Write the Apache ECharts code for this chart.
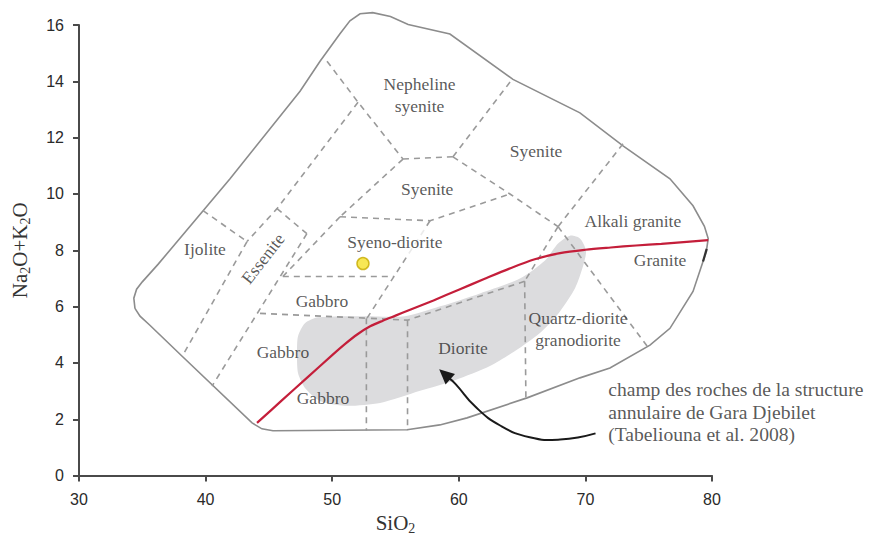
<!DOCTYPE html>
<html>
<head>
<meta charset="utf-8">
<script src="https://cdn.jsdelivr.net/npm/echarts@6/dist/echarts.min.js"></script>
<style>
  html, body { margin: 0; padding: 0; background: #ffffff; }
  #chart { width: 870px; height: 540px; }
</style>
</head>
<body>
<div id="chart"></div>
<script>
// Axis ranges and ticks (SiO2 wt% vs Na2O+K2O wt%)
const xRange = [30, 80];
const yRange = [0, 16];
const xStep = 10;
const yStep = 2;

// Outer limit of the plutonic classification diagram
const outline = [
  [34.42, 5.94], [34.33, 6.3], [34.55, 6.62], [35.0, 6.88], [36.24, 7.5],
  [41.93, 10.54], [47.46, 13.65], [49.04, 14.71], [50.6, 15.68], [51.4, 16.15],
  [52.2, 16.4], [53.2, 16.44], [54.6, 16.3], [56.0, 16.02], [59.3, 15.68],
  [64.28, 14.07], [69.57, 12.88], [73.0, 11.7], [76.68, 10.54], [78.5, 9.58],
  [79.4, 8.85], [79.7, 8.42], [79.55, 7.95], [79.29, 7.6], [78.5, 6.54],
  [76.68, 5.23], [75.1, 4.63], [71.94, 3.82], [69.57, 3.47], [65.39, 2.76],
  [60.65, 2.05], [58.5, 1.8], [55.91, 1.63], [45.32, 1.59], [44.45, 1.66],
  [43.67, 1.87], [38.21, 4.21], [35.6, 5.34], [34.82, 5.66], [34.42, 5.94]
];

// Short darker stretch of the limit just below the granite corner
const darkStretch = [[79.58, 8.05], [79.29, 7.6]];

// Dashed field boundaries
const boundaries = [
  [[39.8, 9.41], [43.27, 8.31]],
  [[43.27, 8.31], [38.21, 4.28]],
  [[52.04, 13.26], [45.64, 9.48], [43.27, 8.31]],
  [[49.59, 14.71], [52.04, 13.26], [55.59, 11.24]],
  [[55.59, 11.24], [59.54, 11.32]],
  [[59.54, 11.32], [64.28, 14.11]],
  [[59.54, 11.32], [64.04, 10.0], [67.84, 8.84]],
  [[72.97, 11.78], [67.84, 8.84]],
  [[67.84, 8.84], [74.87, 4.6]],
  [[67.84, 8.84], [65.2, 6.9]],
  [[65.2, 6.9], [65.3, 2.76]],
  [[65.2, 6.9], [55.95, 5.52], [52.75, 5.59]],
  [[52.7, 5.59], [52.7, 1.59]],
  [[55.95, 5.52], [55.95, 1.6]],
  [[44.3, 5.76], [52.75, 5.59]],
  [[46.1, 7.07], [54.9, 7.07]],
  [[57.73, 9.05], [52.75, 5.59]],
  [[50.62, 9.19], [57.73, 9.05], [64.04, 10.0]],
  [[55.59, 11.24], [50.62, 9.19]],
  [[50.62, 9.19], [46.1, 7.07]],
  [[48.0, 8.59], [40.51, 3.18]],
  [[45.64, 9.48], [48.0, 8.59]]
];

// Alkaline / subalkaline dividing curve
const alkalineCurve = [
  [44.06, 1.87], [46, 2.66], [48, 3.47], [50, 4.28], [51, 4.67], [52, 5.02],
  [53, 5.3], [54, 5.5], [55, 5.68], [56, 5.86], [58, 6.22], [60, 6.6],
  [62, 6.98], [64, 7.35], [66, 7.68], [68, 7.9], [70, 8.02], [72, 8.1],
  [74, 8.17], [76, 8.23], [78, 8.3], [79.7, 8.36]
];

// Field of the Gara Djebilet ring-structure rocks
const rockField = [
  [47.22, 4.35], [47.3, 4.95], [47.85, 5.41], [48.88, 5.62], [52.59, 5.66],
  [55.75, 5.66], [58.52, 6.01], [61.67, 6.47], [64.83, 7.0], [66.81, 7.64],
  [67.84, 8.24], [68.78, 8.52], [69.57, 8.42], [70.05, 7.99], [69.81, 7.43],
  [69.18, 6.65], [67.99, 5.83], [66.41, 5.06], [64.44, 4.42], [62.46, 3.89],
  [59.7, 3.39], [56.94, 3.01], [53.78, 2.58], [51.01, 2.48], [49.04, 2.65],
  [47.85, 3.11], [47.3, 3.64]
];

// Sample
const sample = [[52.43, 7.53]];

// Pointer from the caption to the rock field
const pointer = [
  [70.8, 1.5], [68.0, 1.28], [65.6, 1.36], [63.3, 1.77], [61.3, 2.45],
  [59.75, 3.25], [58.45, 3.78]
];

// Field names: [SiO2, Na2O+K2O, text, rotation, masked background]
const fieldLabels = [
  [56.9, 13.5, 'Nepheline\nsyenite', 0, false],
  [66.1, 11.53, 'Syenite', 0, false],
  [57.5, 10.18, 'Syenite', 0, false],
  [73.75, 9.05, 'Alkali granite', 0, false],
  [54.95, 8.31, 'Syeno-diorite', 0, true],
  [39.95, 8.06, 'Ijolite', 0, false],
  [44.53, 7.71, 'Essenite', 52, false],
  [75.9, 7.64, 'Granite', 0, false],
  [49.19, 6.19, 'Gabbro', 0, false],
  [46.11, 4.38, 'Gabbro', 0, false],
  [60.33, 4.53, 'Diorite', 0, false],
  [69.42, 5.2, 'Quartz-diorite\ngranodiorite', 0, false],
  [49.27, 2.76, 'Gabbro', 0, false]
];

const caption = [71.8, 2.25,
  'champ des roches de la structure\nannulaire de Gara Djebilet\n(Tabeliouna et al. 2008)'];

const serif = '"Liberation Serif", "Times New Roman", serif';
const sans = '"Liberation Sans", Arial, sans-serif';

const chart = echarts.init(document.getElementById('chart'), null, { renderer: 'svg' });

const axisColor = '#4a4a4a';

const option = {
  animation: false,
  backgroundColor: '#ffffff',
  grid: { left: 79, right: 158, top: 25, bottom: 62 },
  xAxis: {
    type: 'value', min: xRange[0], max: xRange[1], interval: xStep,
    name: '{n|SiO}{s|2}', nameLocation: 'middle', nameGap: 34,
    nameTextStyle: {
      rich: {
        n: { fontFamily: serif, fontSize: 21, color: '#333' },
        s: { fontFamily: serif, fontSize: 14, color: '#333', padding: [10, 0, 0, 0] }
      }
    },
    axisLine: { lineStyle: { color: axisColor, width: 2 } },
    axisTick: { length: 6, lineStyle: { color: axisColor, width: 2 } },
    axisLabel: { fontFamily: sans, fontSize: 16, color: '#2a2a2a', margin: 16 },
    splitLine: { show: false }
  },
  yAxis: {
    type: 'value', min: yRange[0], max: yRange[1], interval: yStep,
    name: '{n|Na}{s|2}{n|O+K}{s|2}{n|O}', nameLocation: 'middle', nameGap: 47,
    nameRotate: 90,
    nameTextStyle: {
      rich: {
        n: { fontFamily: serif, fontSize: 21, color: '#333' },
        s: { fontFamily: serif, fontSize: 14, color: '#333', padding: [10, 0, 0, 0] }
      }
    },
    axisLine: { show: true, lineStyle: { color: axisColor, width: 2 } },
    axisTick: { show: true, length: 6, lineStyle: { color: axisColor, width: 2 } },
    axisLabel: { fontFamily: sans, fontSize: 16, color: '#2a2a2a', margin: 15 },
    splitLine: { show: false }
  },
  series: [
    {
      // shaded rock field
      type: 'custom',
      clip: false,
      data: [0],
      z: 1,
      renderItem: function (params, api) {
        return {
          type: 'polygon',
          shape: { points: rockField.map(p => api.coord(p)), smooth: 0.25 },
          style: { fill: '#dcdcde', stroke: null }
        };
      }
    },
    {
      // outer diagram limit
      type: 'custom',
      clip: false,
      data: [0],
      z: 2,
      renderItem: function (params, api) {
        return {
          type: 'group',
          children: [
            {
              type: 'polyline',
              shape: { points: outline.map(p => api.coord(p)) },
              style: { fill: null, stroke: '#8c8c8c', lineWidth: 1.6 }
            },
            {
              type: 'polyline',
              shape: { points: darkStretch.map(p => api.coord(p)) },
              style: { fill: null, stroke: '#333333', lineWidth: 2.2 }
            }
          ]
        };
      }
    },
    {
      // dashed field boundaries
      type: 'custom',
      clip: false,
      data: boundaries.map((b, i) => i),
      z: 3,
      renderItem: function (params, api) {
        const pts = boundaries[params.dataIndex].map(p => api.coord(p));
        return {
          type: 'polyline',
          shape: { points: pts },
          style: { fill: null, stroke: '#9a9a9a', lineWidth: 1.6, lineDash: [6, 5] }
        };
      }
    },
    {
      type: 'line',
      data: alkalineCurve,
      smooth: 0.3,
      showSymbol: false,
      clip: false,
      z: 4,
      lineStyle: { color: '#c41e3a', width: 2.2 }
    },
    {
      type: 'scatter',
      data: sample,
      symbolSize: 12,
      z: 5,
      itemStyle: { color: '#f5e12a', borderColor: '#c6aa00', borderWidth: 1.5 }
    },
    {
      // curved pointer with a filled head
      type: 'custom',
      clip: false,
      data: [0],
      z: 6,
      renderItem: function (params, api) {
        const pts = pointer.map(p => api.coord(p));
        const tip = pts[pts.length - 1];
        const prev = pts[pts.length - 2];
        const dx = tip[0] - prev[0], dy = tip[1] - prev[1];
        const len = Math.sqrt(dx * dx + dy * dy);
        const ux = dx / len, uy = dy / len;
        const headLen = 15, headHalf = 7;
        const bx = tip[0] - ux * headLen, by = tip[1] - uy * headLen;
        const body = pts.slice(0, -1).concat([[bx + ux * 2, by + uy * 2]]);
        return {
          type: 'group',
          children: [
            {
              type: 'polyline',
              shape: { points: body, smooth: 0.5 },
              style: { fill: null, stroke: '#1a1a1a', lineWidth: 2 }
            },
            {
              type: 'polygon',
              shape: {
                points: [
                  tip,
                  [bx - uy * headHalf, by + ux * headHalf],
                  [bx + uy * headHalf, by - ux * headHalf]
                ]
              },
              style: { fill: '#1a1a1a', stroke: null }
            }
          ]
        };
      }
    },
    {
      type: 'scatter',
      z: 7,
      symbolSize: 0,
      data: fieldLabels.map(l => ({
        value: [l[0], l[1]],
        name: l[2],
        label: l[4] ? { backgroundColor: '#ffffff', padding: [2, 2] } : {}
      })),
      label: {
        show: true, position: 'inside',
        fontFamily: serif, fontSize: 17.5, color: '#2e2e2e', lineHeight: 22,
        formatter: p => p.name
      },
      labelLayout: function (params) {
        const item = fieldLabels[params.dataIndex];
        return { rotate: item[3] };
      }
    },
    {
      type: 'scatter',
      z: 7,
      symbolSize: 0,
      data: [{ value: [caption[0], caption[1]], name: caption[2] }],
      label: {
        show: true, position: 'right', distance: 0,
        fontFamily: serif, fontSize: 19.6, color: '#2e2e2e', lineHeight: 22.5, align: 'left',
        formatter: p => p.name
      }
    }
  ]
};

chart.setOption(option);
</script>
</body>
</html>
